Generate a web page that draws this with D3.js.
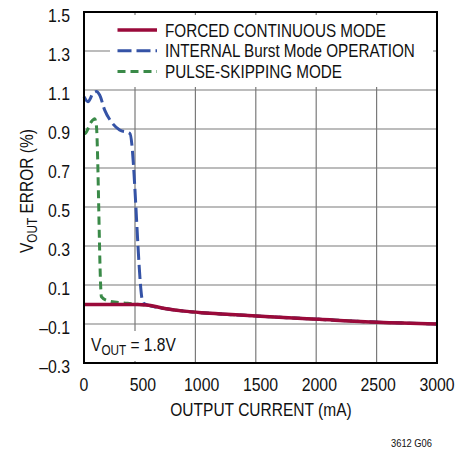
<!DOCTYPE html>
<html>
<head>
<meta charset="utf-8">
<script src="https://cdn.jsdelivr.net/npm/d3@7"></script>
<style>
  html, body { margin: 0; padding: 0; background: #fff; }
  svg { display: block; font-family: "Liberation Sans", Arial, sans-serif; }
</style>
</head>
<body>
<div id="chart"></div>
<script>
// Data (output current in mA, VOUT error in %)
const forcedCurrent = [0, 200, 450, 550, 700, 850, 1000, 1250, 1500, 2000, 2500, 3000];
const forcedError = [0.0, 0.0, 0.0, -0.004, -0.022, -0.034, -0.042, -0.051, -0.06, -0.076, -0.091, -0.1];

const burstCurrent = [0, 34, 77, 105, 133, 176, 232, 303, 390, 502, 560, 700, 850, 1000, 1500, 2000, 2500, 3000];
const burstError = [1.066, 1.04, 1.083, 1.092, 1.074, 0.997, 0.937, 0.895, 0.877, 0.008, -0.006, -0.022, -0.034, -0.042, -0.06, -0.076, -0.091, -0.1];

const pulseCurrent = [0, 10, 60, 91, 105, 148, 205, 370, 470, 560, 700, 850, 1000, 1500, 2000, 2500, 3000];
const pulseError = [0.875, 0.877, 0.935, 0.952, 0.92, 0.04, 0.019, 0.006, 0.0, -0.006, -0.022, -0.034, -0.042, -0.06, -0.076, -0.091, -0.1];

const xTicks = [0, 500, 1000, 1500, 2000, 2500, 3000];
const yTicks = [-0.3, -0.1, 0.1, 0.3, 0.5, 0.7, 0.9, 1.1, 1.3, 1.5];
const legendLabels = ['FORCED CONTINUOUS MODE', 'INTERNAL Burst Mode OPERATION', 'PULSE-SKIPPING MODE'];

const W = 473, H = 449;
const plot = { left: 84, top: 12, right: 437, bottom: 363 };

const svg = d3.select('#chart').append('svg')
  .attr('width', W)
  .attr('height', H);

const x = d3.scaleLinear().domain([0, 3000]).range([plot.left, plot.right]);
// the printed grid is slightly offset from the tick labels in the original
const xGrid = d3.scaleLinear().domain([0, 3000]).range([74.6, plot.right]);
const y = d3.scaleLinear().domain([-0.3, 1.5]).range([plot.bottom, plot.top]);

// Condensed text: no narrow face installed, so squeeze a regular one
function label(parent, tx, ty, size, anchor, squeeze, rotate) {
  const t = `translate(${tx},${ty})` + (rotate ? ` rotate(${rotate})` : '') + ` scale(${squeeze},1)`;
  return parent.append('text')
    .attr('transform', t)
    .attr('text-anchor', anchor)
    .attr('font-size', size + 'px')
    .attr('fill', '#111');
}

// Grid
const grid = svg.append('g').attr('stroke', '#7a7a7a').attr('stroke-width', 1.2);
grid.selectAll('.vg').data(xTicks.slice(1, -1)).enter().append('line')
  .attr('x1', d => xGrid(d)).attr('x2', d => xGrid(d))
  .attr('y1', plot.top).attr('y2', plot.bottom);
grid.selectAll('.hg').data(yTicks.slice(1, -1)).enter().append('line')
  .attr('x1', plot.left).attr('x2', plot.right)
  .attr('y1', d => y(d)).attr('y2', d => y(d));

// Curves
const line = d3.line()
  .x(d => x(d[0]))
  .y(d => y(d[1]))
  .curve(d3.curveMonotoneX);

const series = [
  { cur: pulseCurrent, err: pulseError, color: '#3a8a48', width: 3, dash: '8,5' },
  { cur: burstCurrent, err: burstError, color: '#3553a6', width: 3, dash: '14,5' },
  { cur: forcedCurrent, err: forcedError, color: '#9a0a3a', width: 3.5, dash: null }
];

series.forEach(s => {
  svg.append('path')
    .datum(s.cur.map((c, i) => [c, s.err[i]]))
    .attr('fill', 'none')
    .attr('stroke', s.color)
    .attr('stroke-width', s.width)
    .attr('stroke-dasharray', s.dash)
    .attr('d', line);
});

// Legend box (white background hides the grid)
svg.append('rect')
  .attr('x', 110).attr('y', 15)
  .attr('width', 323).attr('height', 72)
  .attr('fill', '#fff');

const legendOrder = [series[2], series[1], series[0]];
legendOrder.forEach((s, i) => {
  const ly = 30 + i * 20.8;
  svg.append('line')
    .attr('x1', 117.5).attr('x2', 157)
    .attr('y1', ly).attr('y2', ly)
    .attr('stroke', s.color)
    .attr('stroke-width', s.width)
    .attr('stroke-dasharray', s.dash);
  label(svg, 165, ly + 6.5, 18.5, 'start', 0.825).text(legendLabels[i]);
});

// VOUT annotation
svg.append('rect')
  .attr('x', 86).attr('y', 331)
  .attr('width', 104).attr('height', 30)
  .attr('fill', '#fff');
const ann = label(svg, 91, 351, 18.5, 'start', 0.84);
ann.append('tspan').text('V');
ann.append('tspan').attr('font-size', '14px').attr('dy', 4).text('OUT');
ann.append('tspan').attr('dy', -4).text(' = 1.8V');

// Frame
svg.append('rect')
  .attr('x', plot.left).attr('y', plot.top)
  .attr('width', plot.right - plot.left)
  .attr('height', plot.bottom - plot.top)
  .attr('fill', 'none')
  .attr('stroke', '#000')
  .attr('stroke-width', 2);

// Tick labels
const fmtY = d => (d < 0 ? '\u2013' : '') + Math.abs(d).toFixed(1);
yTicks.forEach(d => {
  label(svg, 70, y(d) + 9.5, 18, 'end', 0.88).text(fmtY(d));
});
xTicks.forEach(d => {
  label(svg, x(d), 391, 18, 'middle', 0.88).text(d);
});

// Axis titles
label(svg, (plot.left + plot.right) / 2 + 0.5, 416, 18.5, 'middle', 0.84).text('OUTPUT CURRENT (mA)');

const yTitle = label(svg, 33, 191, 18.5, 'middle', 0.84, -90);
yTitle.append('tspan').text('V');
yTitle.append('tspan').attr('font-size', '14px').attr('dy', 4).text('OUT');
yTitle.append('tspan').attr('dy', -4).text(' ERROR (%)');

// Figure id
label(svg, 432, 447, 11, 'end', 0.85).text('3612 G06');
</script>
</body>
</html>
